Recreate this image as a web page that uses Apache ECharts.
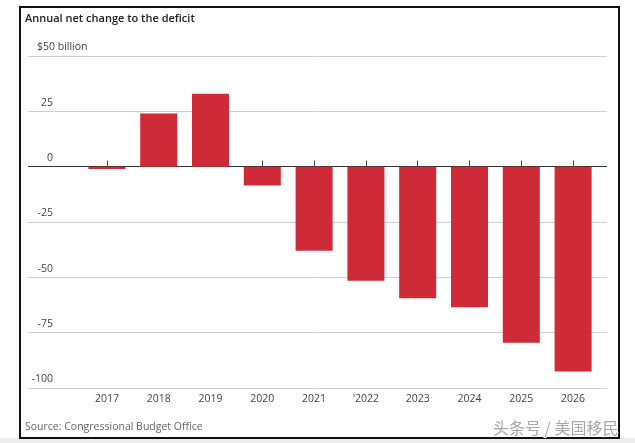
<!DOCTYPE html>
<html>
<head>
<meta charset="utf-8">
<script src="https://cdn.jsdelivr.net/npm/echarts@6/dist/echarts.min.js"></script>
<style>html,body{margin:0;padding:0;background:#fff;}#c{width:635px;height:443px;}</style>
</head>
<body>
<div id="c"></div>
<script>
var years = ['2017', '2018', '2019', '2020', '2021', "'2022", '2023', '2024', '2025', '2026'];
var netChange = [-1, 24, 33, -8.5, -38, -51.5, -59.5, -63.5, -79.5, -92.5];
var yTicks = { min: -100, max: 50, interval: 25 };
var titleText = 'Annual net change to the deficit';
var sourceText = 'Source: Congressional Budget Office';
var watermarkText = '头条号 / 美国移民';

var font = '"Open Sans", "DejaVu Sans", sans-serif';
var chart = echarts.init(document.getElementById('c'), null, { renderer: 'canvas' });
var gridColors = ['#cfcfcf', '#cfcfcf', '#cfcfcf', '#cfcfcf', '#333333', '#cfcfcf', '#cfcfcf'];

chart.setOption({
  backgroundColor: '#ffffff',
  animation: false,
  title: {
    text: titleText,
    left: 25, top: 13, padding: 0,
    textStyle: { fontFamily: font, fontSize: 11, fontWeight: 600, color: '#222' }
  },
  grid: [
    { left: 28, right: 28, top: 56, bottom: 55 },
    { left: 81, right: 36, top: 56, bottom: 55 }
  ],
  xAxis: [
    { gridIndex: 0, type: 'value', min: 0, max: 1, show: false },
    {
      gridIndex: 1, type: 'category', data: years,
      axisLine: { show: false },
      axisTick: { show: true, inside: true, alignWithLabel: true, length: 6, lineStyle: { color: '#444', width: 1 } },
      axisLabel: { margin: 6, fontFamily: font, fontSize: 10.5, color: '#444' },
      splitLine: { show: false }
    }
  ],
  yAxis: [
    {
      gridIndex: 0, type: 'value', min: yTicks.min, max: yTicks.max, interval: yTicks.interval,
      axisLine: { show: false }, axisTick: { show: false },
      splitLine: { show: true, lineStyle: { color: gridColors, width: 1 } },
      axisLabel: {
        margin: -9, align: 'left', verticalAlign: 'bottom', padding: [0, 0, 3, 0],
        fontFamily: font, fontSize: 10.5, color: '#444',
        formatter: function (v) { return v === yTicks.max ? '{w|$' + v + ' billion}' : '{n|' + v + '}'; },
        rich: {
          n: { width: 16, align: 'right', fontFamily: font, fontSize: 10.5, color: '#444' },
          w: { align: 'left', fontFamily: font, fontSize: 10.5, color: '#444' }
        }
      }
    },
    { gridIndex: 1, type: 'value', min: yTicks.min, max: yTicks.max, interval: yTicks.interval, show: false, splitLine: { show: false } }
  ],
  series: [{
    type: 'bar', xAxisIndex: 1, yAxisIndex: 1, data: netChange,
    barWidth: 37,
    itemStyle: { color: '#cf2a38' }
  }],
  graphic: [
    { type: 'rect', shape: { x: 0, y: 438, width: 635, height: 5 }, style: { fill: '#ededed' }, silent: true, z: -1 },
    { type: 'rect', shape: { x: 20, y: 7, width: 599, height: 431 }, style: { fill: 'none', stroke: '#111', lineWidth: 2 }, silent: true },
    { type: 'text', left: 25, top: 422, style: { text: sourceText, font: '10.5px ' + font, fill: '#666' }, silent: true },
    { type: 'text', left: 492, top: 419, style: { text: watermarkText, font: '16px "Noto Sans CJK SC", sans-serif', fill: '#a8a8a8', stroke: '#fff', lineWidth: 2 }, silent: true, z: 10 }
  ]
});
</script>
</body>
</html>
